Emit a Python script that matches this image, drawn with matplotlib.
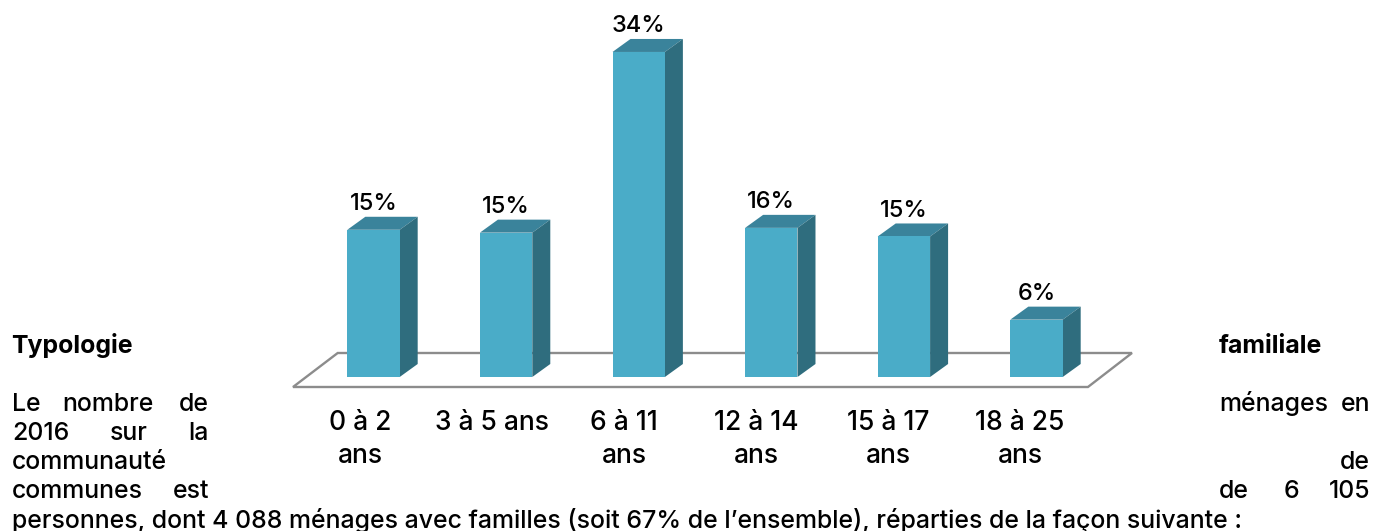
"""Bar chart with fake 3D bars inside a justified paragraph."""
import matplotlib
matplotlib.use("Agg")
import matplotlib.pyplot as plt
from matplotlib.patches import Polygon
from matplotlib.transforms import Affine2D

categories = ["0 à 2\nans", "3 à 5 ans", "6 à 11\nans", "12 à 14\nans", "15 à 17\nans", "18 à 25\nans"]
heights = [15.4, 15.1, 34.0, 15.6, 14.7, 6.0]
value_labels = ["15%", "15%", "34%", "16%", "15%", "6%"]

FONT = "Inter"
BODY_SIZE = 17.9
CAT_SIZE = 19
VALUE_SIZE = 17
WEIGHT = "medium"
PX_X = 132.6      # pixels per category
PX_Y = 9.56       # pixels per percent
ORIGIN = (373.5, 377.0)
BAR_WIDTH = 0.395
DX = 18 / PX_X    # depth of the bars
DY = 13 / PX_Y

FRONT = "#4aacc8"
TOP = "#3a839b"
SIDE = "#2f6d7e"
FLOOR = "#8c8c8c"

plt.rcParams["font.family"] = [FONT, "DejaVu Sans"]

fig = plt.figure(figsize=(13.75, 5.31), dpi=100)
# figure pixels, y going down, for the text around the chart
px = Affine2D().scale(1, -1).translate(0, 531)

# axes placed so that 0 % and the first category land on ORIGIN
left, right, top, bottom = 280, 1145, 10, 400
ax = fig.add_axes([left / 1375, (531 - bottom) / 531, (right - left) / 1375, (bottom - top) / 531])
ax.set_xlim((left - ORIGIN[0]) / PX_X, (right - ORIGIN[0]) / PX_X)
ax.set_ylim((ORIGIN[1] - bottom) / PX_Y, (ORIGIN[1] - top) / PX_Y)
ax.axis("off")

# floor
floor_y0, floor_y1 = -10 / PX_Y, 24 / PX_Y
ax.add_patch(Polygon(
    [(-0.607, floor_y0), (5.388, floor_y0), (5.72, floor_y1), (-0.27, floor_y1)],
    closed=True, fill=False, edgecolor=FLOOR, linewidth=1.7, zorder=1, joinstyle="miter",
))

xs = list(range(len(heights)))
ax.bar(xs, heights, width=BAR_WIDTH, color=FRONT, edgecolor="none", zorder=3)

for x, h, label in zip(xs, heights, value_labels):
    x0, x1 = x - BAR_WIDTH / 2, x + BAR_WIDTH / 2
    ax.add_patch(Polygon([(x0, h), (x1, h), (x1 + DX, h + DY), (x0 + DX, h + DY)],
                         closed=True, facecolor=TOP, edgecolor="none", zorder=2))
    ax.add_patch(Polygon([(x1, 0), (x1 + DX, DY), (x1 + DX, h + DY), (x1, h)],
                         closed=True, facecolor=SIDE, edgecolor="none", zorder=2))
    ax.annotate(label, xy=(x, h), xytext=(0, 14.2), textcoords="offset points",
                ha="center", va="baseline", fontsize=VALUE_SIZE, fontweight=WEIGHT,
                color="black", zorder=4)

# the labels step a little tighter than the bars in the source
for x, cat in zip(xs, categories):
    for i, line in enumerate(cat.split("\n")):
        ax.text(x * 132 / PX_X - 13.5 / PX_X, -(53 + i * 33) / PX_Y, line, ha="center", va="baseline",
                fontsize=CAT_SIZE, fontweight=WEIGHT, color="black", clip_on=False)

# paragraph around the chart, justified in the source so words sit apart
body = [
    ("Le", 12, 411, "left"), ("nombre", 62, 411, "left"), ("de", 209, 411, "right"),
    ("ménages", 1219, 411, "left"), ("en", 1370, 411, "right"),
    ("2016", 12, 440, "left"), ("sur", 110, 440, "left"), ("la", 209, 440, "right"),
    ("communauté", 12, 469, "left"), ("de", 1370, 469, "right"),
    ("communes", 12, 498, "left"), ("est", 209, 498, "right"),
    ("de", 1219, 498, "left"), ("6", 1284, 498, "left"), ("105", 1370, 498, "right"),
    ("personnes, dont 4 088 ménages avec familles (soit 67% de l’ensemble), réparties de la façon suivante :",
     12, 528, "left"),
]
for word, x, y, align in body:
    fig.text(x, y, word, transform=px, ha=align, va="baseline", fontsize=BODY_SIZE,
             fontweight=WEIGHT, color="black")

fig.text(11, 353, "Typologie", transform=px, ha="left", va="baseline",
         fontsize=BODY_SIZE, fontweight="bold", color="black")
fig.text(1219, 353, "familiale", transform=px, ha="left", va="baseline",
         fontsize=BODY_SIZE, fontweight="bold", color="black")

fig.savefig("out.png", dpi=100, facecolor="white")
